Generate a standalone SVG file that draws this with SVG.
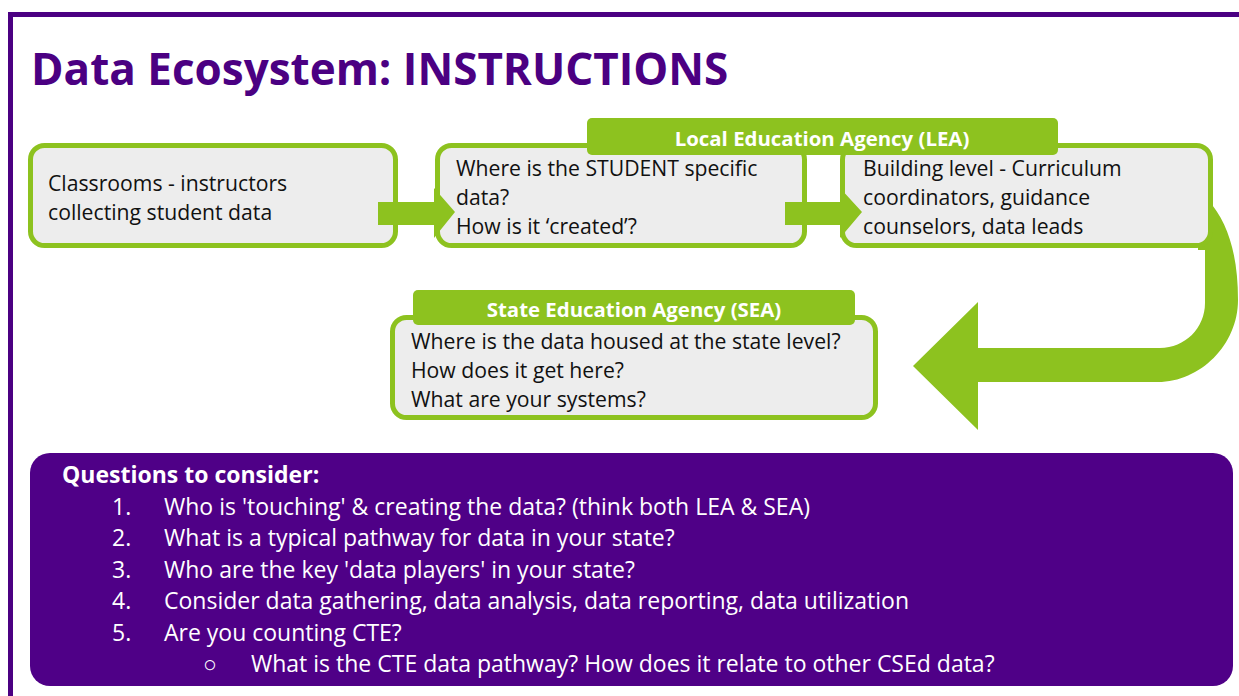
<svg xmlns="http://www.w3.org/2000/svg" width="1239" height="696" viewBox="0 0 1239 696">
<style>
.box{fill:#EDEDED;stroke:#8DC21F;stroke-width:5}
.lbl{fill:#8DC21F}
.t{font-family:"Open Sans","Liberation Sans",sans-serif;font-size:21.2px;fill:#111}
.lt{font-family:"Open Sans","Liberation Sans",sans-serif;font-size:20.4px;font-weight:bold;fill:#fff;text-anchor:middle}
.arr{fill:#8DC21F}
.q{font-family:"Open Sans","Liberation Sans",sans-serif;font-size:23px;fill:#fff}
</style>
<rect x="0" y="0" width="1239" height="696" fill="#fff"/>
<path d="M10.5,696 L10.5,14.5 L1239,14.5" fill="none" stroke="#4B0082" stroke-width="5"/>
<text x="31" y="85" font-family="'Open Sans','Liberation Sans',sans-serif" font-size="44" font-weight="bold" fill="#4B0082">Data Ecosystem: INSTRUCTIONS</text>

<g id="connectors">
<path id="uturn" class="arr" d="M1198,200 L1208,200 C1228,222 1238,255 1238,300 C1238,345 1200,382 1158,382 L978,382 L978,430 L913,366 L978,302 L978,348 L1160,348 C1185,348 1205,328 1205,303 L1205,250 L1198,250 Z"/>
</g>

<g id="classrooms">
<rect class="box" x="30.5" y="145.5" width="365" height="100" rx="14"/>
<text class="t" x="48" y="191">Classrooms - instructors</text>
<text class="t" x="48" y="220">collecting student data</text>
</g>

<g id="student-data">
<rect class="box" x="437.5" y="145.5" width="367" height="100" rx="14"/>
<text class="t" x="456" y="176">Where is the STUDENT specific</text>
<text class="t" x="456" y="205">data?</text>
<text class="t" x="456" y="234">How is it ‘created’?</text>
</g>

<g id="building-level">
<rect class="box" x="842.5" y="145.5" width="368" height="100" rx="14"/>
<text class="t" x="863" y="176">Building level - Curriculum</text>
<text class="t" x="863" y="205">coordinators, guidance</text>
<text class="t" x="863" y="234">counselors, data leads</text>
</g>

<g id="lea-label">
<rect class="lbl" x="587" y="118" width="471" height="37" rx="5"/>
<text class="lt" x="822" y="146">Local Education Agency (LEA)</text>
</g>

<g id="sea">
<rect class="box" x="392.5" y="317.5" width="483" height="100" rx="14"/>
<rect class="lbl" x="413" y="290" width="442" height="35" rx="5"/>
<text class="lt" x="634" y="317">State Education Agency (SEA)</text>
<text class="t" x="411" y="349">Where is the data housed at the state level?</text>
<text class="t" x="411" y="378">How does it get here?</text>
<text class="t" x="411" y="407">What are your systems?</text>
</g>

<g id="connectors-straight">
<path class="arr" d="M378,202 L434,202 L434,188 L455,212 L434,238 L434,225 L378,225 Z"/>
<path class="arr" d="M785,202 L840,202 L840,188 L862,212 L840,238 L840,225 L785,225 Z"/>
</g>

<g id="questions">
<rect x="30" y="453" width="1203" height="233" rx="20" fill="#4F0087"/>
<text class="q" x="62" y="483" font-weight="bold" font-size="19.7">Questions to consider:</text>
<text class="q" x="112" y="515">1.</text><text class="q" x="164" y="515">Who is 'touching' &amp; creating the data? (think both LEA &amp; SEA)</text>
<text class="q" x="112" y="546">2.</text><text class="q" x="164" y="546">What is a typical pathway for data in your state?</text>
<text class="q" x="112" y="578">3.</text><text class="q" x="164" y="578">Who are the key 'data players' in your state?</text>
<text class="q" x="112" y="609">4.</text><text class="q" x="164" y="609">Consider data gathering, data analysis, data reporting, data utilization</text>
<text class="q" x="112" y="641">5.</text><text class="q" x="164" y="641">Are you counting CTE?</text>
<text class="q" x="203" y="672">○</text><text class="q" x="251" y="672">What is the CTE data pathway? How does it relate to other CSEd data?</text>
</g>
</svg>
